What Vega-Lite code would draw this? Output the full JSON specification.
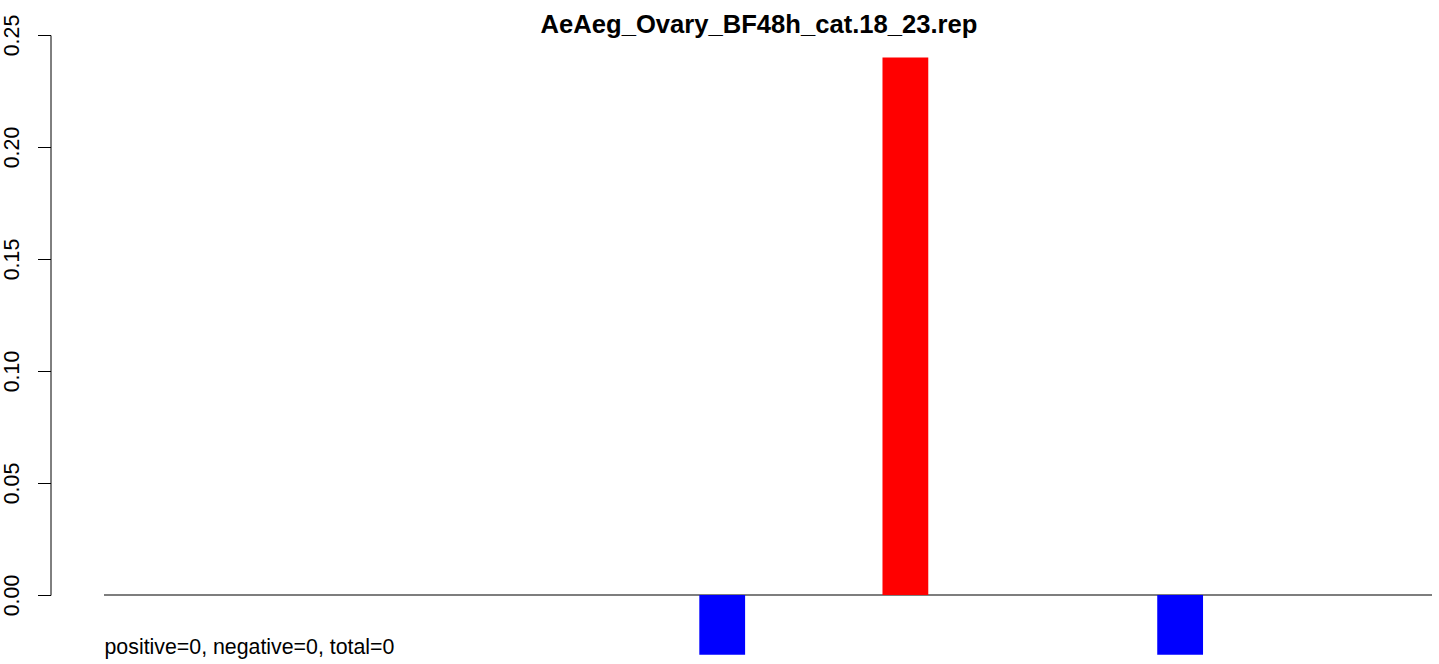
{
  "$schema": "https://vega.github.io/schema/vega-lite/v6.json",
  "width": 1328,
  "height": 560,
  "autosize": {"type": "none"},
  "padding": {"left": 104, "top": 35, "right": 7, "bottom": 69},
  "background": "white",
  "config": {
    "view": {"stroke": null},
    "font": "Liberation Sans"
  },
  "title": {
    "text": "AeAeg_Ovary_BF48h_cat.18_23.rep",
    "font": "Liberation Sans",
    "fontSize": 25.6,
    "fontWeight": "bold",
    "color": "black",
    "anchor": "middle",
    "frame": "group",
    "baseline": "alphabetic",
    "offset": 0,
    "dy": 44.5,
    "dx": -9
  },
  "data": {
    "values": [
      {"slot": 1, "value": 0},
      {"slot": 2, "value": 0},
      {"slot": 3, "value": 0},
      {"slot": 4, "value": 0},
      {"slot": 5, "value": 0},
      {"slot": 6, "value": 0},
      {"slot": 7, "value": -0.0267},
      {"slot": 8, "value": 0},
      {"slot": 9, "value": 0.24},
      {"slot": 10, "value": 0},
      {"slot": 11, "value": 0},
      {"slot": 12, "value": -0.0267},
      {"slot": 13, "value": 0},
      {"slot": 14, "value": 0}
    ]
  },
  "layer": [
    {
      "mark": {"type": "rule", "color": "#7f7f7f", "strokeWidth": 1},
      "encoding": {"y": {"datum": 0, "type": "quantitative"}}
    },
    {
      "mark": {"type": "bar", "clip": false},
      "encoding": {
        "x": {
          "field": "slot",
          "type": "ordinal",
          "scale": {"paddingInner": 0.5, "paddingOuter": 0.5},
          "axis": {
            "domain": false,
            "ticks": false,
            "labels": false,
            "grid": false,
            "title": "positive=0, negative=0, total=0",
            "titleFont": "Liberation Sans",
            "titleFontSize": 21.33,
            "titleFontWeight": "normal",
            "titleColor": "black",
            "titleAnchor": "start",
            "titleAlign": "left",
            "titleBaseline": "alphabetic",
            "titleX": 0,
            "titleY": 58
          }
        },
        "y": {
          "field": "value",
          "type": "quantitative",
          "scale": {"domain": [0, 0.25], "nice": false, "zero": false},
          "axis": {
            "values": [0, 0.05, 0.1, 0.15, 0.2, 0.25],
            "format": ".2f",
            "grid": false,
            "title": null,
            "offset": 53.5,
            "domainColor": "black",
            "domainWidth": 1,
            "tickColor": "black",
            "tickWidth": 1,
            "tickSize": 13,
            "labelFont": "Liberation Sans",
            "labelFontSize": 21.33,
            "labelColor": "black",
            "labelAngle": 270,
            "labelAlign": "center",
            "labelBaseline": "alphabetic",
            "labelPadding": 19,
            "labelOverlap": false,
            "labelBound": false,
            "labelFlush": false
          }
        },
        "color": {
          "condition": {"test": "datum.value > 0", "value": "#ff0000"},
          "value": "#0000ff"
        }
      }
    }
  ]
}
